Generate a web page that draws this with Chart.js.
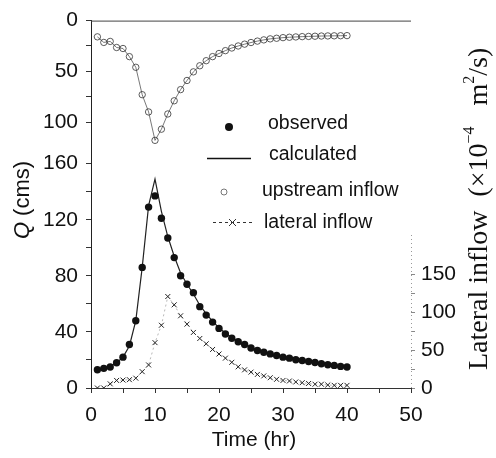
<!DOCTYPE html>
<html>
<head>
<meta charset="utf-8">
<script src="https://cdn.jsdelivr.net/npm/chart.js@4.4.1/dist/chart.umd.min.js"></script>
<style>
  html, body { margin: 0; padding: 0; background: #fff; }
  #wrap { width: 496px; height: 458px; position: relative; }
</style>
</head>
<body>
<div id="wrap"><canvas id="hydro"></canvas></div>
<script>
// hourly values
const hours = [1, 2, 3, 4, 5, 6, 7, 8, 9, 10, 11, 12, 13, 14, 15, 16, 17, 18, 19, 20,
               21, 22, 23, 24, 25, 26, 27, 28, 29, 30, 31, 32, 33, 34, 35, 36, 37, 38, 39, 40];
const observed = [13, 14, 15, 18, 22, 31, 48, 86, 129, 137, 121, 107, 93, 80, 74, 68, 58, 52, 47, 42.5,
                  38.5, 35.5, 33, 31, 28.5, 26.7, 25.5, 24.3, 23.2, 22, 21.3, 20.1, 19.6, 18.9, 18.2, 17.3, 16.6, 16.1, 15.4, 15];
const calculated = [13, 14.5, 15.5, 18, 22, 30, 48, 86, 130, 149, 126, 108, 94, 82, 74, 67, 59, 53, 47.5, 43,
                    39, 36, 33, 31, 29, 27, 25.5, 24.3, 23.2, 22.2, 21.3, 20.4, 19.7, 19, 18.3, 17.6, 17, 16.4, 15.9, 15.4];
const upstream = [16, 21.5, 20.5, 26.5, 27.5, 35.5, 46, 73, 90, 118, 107, 92, 79, 68, 59, 50.5, 44.5, 39.5, 35.5, 32.4,
                  29.6, 27, 25, 23.2, 21.6, 20.2, 19, 18, 17.4, 16.8, 16.4, 16.1, 15.8, 15.6, 15.4, 15.2, 15.1, 15, 14.9, 14.8];
const lateral = [0, 0, 5.5, 10, 10.5, 11, 13, 21.6, 30.5, 60, 83, 121, 110, 95.5, 84.5, 73.5, 65.5, 58.5, 51, 45,
                 39.5, 34, 28, 24, 21, 18, 16, 13.6, 11.5, 10, 9.3, 8, 7, 6, 5, 5, 4, 3.5, 3.5, 3.5];

const timeTicks = [0, 5, 10, 15, 20, 25, 30, 35, 40, 45, 50];
const qTicks = [0, 20, 40, 60, 80, 100, 120, 140, 160];
const upTicks = [0, 25, 50, 75, 100];
const latTicks = [0, 25, 50, 75, 100, 125, 150];

const pts = (vals) => vals.map((v, i) => ({ x: hours[i], y: v }));
const tickFont = { family: 'Liberation Sans, Arial, sans-serif', size: 21 };

function fixTicks(list) {
  return (scale) => { scale.ticks = list.map(v => ({ value: v })); };
}
function fixSize(prop, size) {
  return (scale) => { scale[prop] = size; };
}

// the inverted upstream axis shares the left margin with the Q axis
const overlayAxis = {
  id: 'overlayAxis',
  afterLayout(chart) {
    const top = chart.scales.yTop;
    top.left = 0;
    top.right = chart.chartArea.left;
    top.width = chart.chartArea.left;
  }
};

// titles, legend, frame pieces that Chart.js has no option for
const decorations = {
  id: 'decorations',
  afterDraw(chart) {
    const { ctx, chartArea: a, scales } = chart;
    ctx.save();

    // top frame line
    ctx.strokeStyle = '#444';
    ctx.lineWidth = 1;
    ctx.beginPath();
    ctx.moveTo(a.left, a.top + 0.5);
    ctx.lineTo(a.right, a.top + 0.5);
    ctx.stroke();

    // faint dotted right axis, only the lower part
    ctx.strokeStyle = '#999';
    ctx.setLineDash([1, 3]);
    ctx.beginPath();
    ctx.moveTo(a.right + 0.5, scales.y2.getPixelForValue(0));
    ctx.lineTo(a.right + 0.5, scales.y2.getPixelForValue(205));
    ctx.stroke();
    ctx.setLineDash([]);

    ctx.fillStyle = '#111';
    ctx.textBaseline = 'middle';

    // x title
    ctx.font = '21px Liberation Sans, Arial, sans-serif';
    ctx.textAlign = 'center';
    ctx.fillText('Time (hr)', 254, 440);

    // left title, italic Q
    ctx.save();
    ctx.translate(23, 200);
    ctx.rotate(-Math.PI / 2);
    ctx.textAlign = 'left';
    ctx.font = 'italic 22px Liberation Sans, Arial, sans-serif';
    const qw = ctx.measureText('Q').width;
    ctx.font = '22px Liberation Sans, Arial, sans-serif';
    const rw = ctx.measureText(' (cms)').width;
    let x0 = -(qw + rw) / 2;
    ctx.font = 'italic 22px Liberation Sans, Arial, sans-serif';
    ctx.fillText('Q', x0, 0);
    ctx.font = '22px Liberation Sans, Arial, sans-serif';
    ctx.fillText(' (cms)', x0 + qw, 0);
    ctx.restore();

    // right title, serif with superscripts
    ctx.save();
    ctx.translate(480, 370);
    ctx.rotate(-Math.PI / 2);
    ctx.textAlign = 'left';
    const big = '28px Liberation Serif, Times New Roman, serif';
    const small = '16px Liberation Serif, Times New Roman, serif';
    let cx = 0;
    const put = (txt, font, dy) => {
      ctx.font = font;
      ctx.fillText(txt, cx, dy);
      cx += ctx.measureText(txt).width;
    };
    put('Lateral inflow  (\u00d710', big, 0);
    put('\u22124', small, -10);
    put('   m', big, 0);
    put('2', small, -10);
    put('/s)', big, 0);
    ctx.restore();

    // legend
    ctx.font = '19.5px Liberation Sans, Arial, sans-serif';
    ctx.textAlign = 'left';
    ctx.fillText('observed', 268, 124);
    ctx.fillText('calculated', 269, 155);
    ctx.fillText('upstream inflow', 262, 191);
    ctx.fillText('lateral inflow', 264, 223);

    ctx.beginPath();
    ctx.arc(229, 127, 4, 0, Math.PI * 2);
    ctx.fill();

    ctx.strokeStyle = '#111';
    ctx.lineWidth = 1.5;
    ctx.beginPath();
    ctx.moveTo(207, 158.5);
    ctx.lineTo(251, 158.5);
    ctx.stroke();

    ctx.strokeStyle = '#555';
    ctx.lineWidth = 0.8;
    ctx.beginPath();
    ctx.arc(224, 192, 3, 0, Math.PI * 2);
    ctx.stroke();

    ctx.strokeStyle = '#333';
    ctx.lineWidth = 1;
    ctx.setLineDash([3, 3]);
    ctx.beginPath();
    ctx.moveTo(213, 222.5);
    ctx.lineTo(253, 222.5);
    ctx.stroke();
    ctx.setLineDash([]);
    ctx.beginPath();
    ctx.moveTo(229, 219); ctx.lineTo(236, 226);
    ctx.moveTo(236, 219); ctx.lineTo(229, 226);
    ctx.stroke();

    ctx.restore();
  }
};

new Chart(document.getElementById('hydro'), {
  type: 'line',
  data: {
    datasets: [
      {
        label: 'calculated',
        data: pts(calculated),
        yAxisID: 'yQ',
        borderColor: '#222',
        borderWidth: 1.2,
        pointRadius: 0,
        order: 3
      },
      {
        label: 'observed',
        data: pts(observed),
        yAxisID: 'yQ',
        showLine: false,
        pointRadius: 3.7,
        pointBackgroundColor: '#111',
        pointBorderColor: '#111',
        pointBorderWidth: 0,
        order: 1
      },
      {
        label: 'upstream inflow',
        data: pts(upstream),
        yAxisID: 'yTop',
        borderColor: '#555',
        borderWidth: 0.8,
        pointStyle: 'circle',
        pointRadius: 3.2,
        pointBackgroundColor: 'rgba(0,0,0,0)',
        pointBorderColor: '#333',
        pointBorderWidth: 0.8,
        order: 2
      },
      {
        label: 'lateral inflow',
        data: pts(lateral),
        yAxisID: 'y2',
        borderColor: '#999',
        borderWidth: 0.7,
        borderDash: [2, 3],
        pointStyle: 'crossRot',
        pointRadius: 3.5,
        pointBorderColor: '#222',
        pointBorderWidth: 1,
        order: 2
      }
    ]
  },
  options: {
    responsive: true,
    maintainAspectRatio: false,
    animation: false,
    layout: { padding: { top: 15, left: 0, right: 0, bottom: 0 } },
    plugins: { legend: { display: false }, tooltip: { enabled: false } },
    scales: {
      x: {
        type: 'linear',
        min: 0,
        max: 50,
        afterBuildTicks: fixTicks(timeTicks),
        afterFit: fixSize('height', 70),
        border: { color: '#333', width: 1 },
        grid: { drawOnChartArea: false, drawTicks: true, tickLength: 5, color: '#333' },
        ticks: {
          font: tickFont, color: '#111', padding: 10, maxRotation: 0, autoSkip: false,
          callback: (v) => (v % 10 === 0 ? v : '')
        }
      },
      yQ: {
        type: 'linear',
        position: 'left',
        weight: 1,
        min: 0,
        max: 262,
        afterBuildTicks: fixTicks(qTicks),
        afterFit: fixSize('width', 91),
        border: { color: '#222', width: 1 },
        grid: { drawOnChartArea: false, drawTicks: true, tickLength: 5, color: '#333' },
        ticks: {
          font: tickFont, color: '#111', padding: 8, autoSkip: false,
          callback: (v) => (v % 40 === 0 ? v : '')
        }
      },
      yTop: {
        type: 'linear',
        position: 'left',
        weight: 0,
        reverse: true,
        min: 0,
        max: 362,
        afterBuildTicks: fixTicks(upTicks),
        afterFit: fixSize('width', 0),
        border: { display: false },
        grid: { drawOnChartArea: false, drawTicks: true, tickLength: 5, color: '#333' },
        ticks: {
          font: tickFont, color: '#111', padding: 8, autoSkip: false,
          callback: (v) => (v % 50 === 0 ? v : '')
        }
      },
      y2: {
        type: 'linear',
        position: 'right',
        min: 0,
        max: 486,
        afterBuildTicks: fixTicks(latTicks),
        afterFit: fixSize('width', 85),
        border: { display: false },
        grid: { drawOnChartArea: false, drawTicks: true, tickLength: 4, color: '#888' },
        ticks: {
          font: tickFont, color: '#111', padding: 6, autoSkip: false,
          callback: (v) => (v % 50 === 0 ? v : '')
        }
      }
    }
  },
  plugins: [overlayAxis, decorations]
});
</script>
</body>
</html>
